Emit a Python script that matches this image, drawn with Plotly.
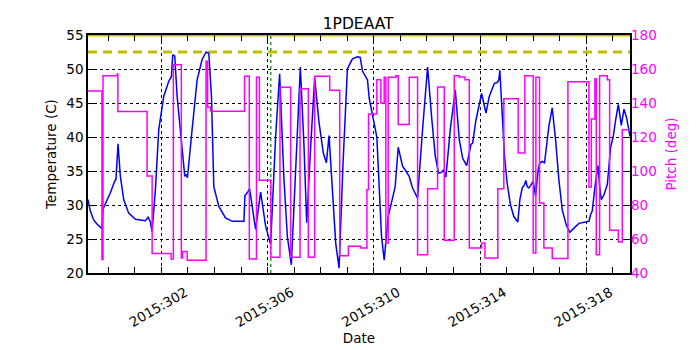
import plotly.graph_objects as go

# Temperature (C) vs day of year 2015
temp_days = [299.235, 299.323, 299.448, 299.574, 299.737, 299.76, 299.80, 300.077, 300.24, 300.29,
             300.366, 300.454, 300.58, 300.768, 301.02, 301.397, 301.497, 301.585, 301.648, 301.774,
             301.9, 302.088, 302.277, 302.377, 302.427, 302.503, 302.591, 302.716, 302.88, 302.93,
             302.98, 303.156, 303.345, 303.533, 303.684, 303.785, 303.885, 303.973, 304.162, 304.413,
             304.668, 305.108, 305.145, 305.233, 305.321, 305.547, 305.736, 305.925, 306.113, 306.302,
             306.452, 306.616, 306.742, 306.892, 307.081, 307.232, 307.37, 307.471, 307.621, 307.772,
             307.936, 308.099, 308.212, 308.313, 308.438, 308.564, 308.69, 308.841, 309.004, 309.193,
             309.384, 309.485, 309.573, 309.698, 309.761, 309.824, 309.95, 310.113, 310.201, 310.289,
             310.39, 310.54, 310.704, 310.804, 310.918, 311.081, 311.207, 311.332, 311.458, 311.647,
             311.835, 312.024, 312.174, 312.313, 312.438, 312.552, 312.627, 312.715, 312.878, 313.067,
             313.218, 313.343, 313.494, 313.658, 313.72, 313.846, 314.06, 314.223, 314.349, 314.538,
             314.644, 314.707, 314.745, 314.833, 314.92, 315.021, 315.147, 315.272, 315.423, 315.499,
             315.587, 315.675, 315.725, 315.775, 315.838, 315.926, 316.001, 316.089, 316.127, 316.19,
             316.253, 316.341, 316.429, 316.467, 316.592, 316.718, 316.844, 316.969, 317.095, 317.258,
             317.384, 317.535, 317.723, 317.975, 318.101, 318.163, 318.226, 318.327, 318.44, 318.515,
             318.566, 318.666, 318.792, 318.918, 319.018, 319.106, 319.207, 319.32, 319.42, 319.521,
             319.647]
temp_vals = [30.8, 29.1, 27.8, 27.2, 26.6, 26.5, 29.4, 31.8, 33.5, 33.8,
             39.0, 34.2, 30.8, 28.8, 27.9, 27.7, 28.2, 27.5, 26.1, 32.3,
             41.1, 46.0, 48.2, 48.9, 52.1, 51.9, 46.0, 41.1, 34.2, 34.5,
             34.0, 41.1, 48.4, 51.4, 52.5, 52.3, 46.0, 32.7, 29.8, 28.1,
             27.6, 27.6, 31.4, 31.8, 32.4, 26.4, 31.9, 26.9, 24.2, 40.1,
             49.3, 33.7, 25.4, 21.2, 36.2, 50.3, 38.6, 27.4, 38.6, 48.7,
             42.1, 37.6, 36.2, 40.2, 32.3, 24.4, 20.7, 36.2, 50.0, 51.5,
             51.8, 51.7, 49.7, 48.7, 48.4, 45.7, 43.0, 40.0, 32.7, 25.4,
             21.9, 28.3, 31.0, 32.7, 38.5, 35.7, 35.0, 34.2, 32.5, 31.0,
             41.1, 50.3, 43.0, 37.2, 34.7, 34.8, 35.2, 34.1, 41.1, 46.9,
             39.6, 36.9, 35.8, 38.9, 39.1, 42.5, 46.4, 43.5, 46.0, 47.9,
             48.0, 48.4, 49.8, 44.0, 37.2, 33.2, 30.0, 28.3, 27.5, 30.8,
             32.5, 33.0, 33.6, 32.7, 32.5, 33.0, 33.5, 31.3, 32.7, 35.2,
             36.2, 36.4, 36.2, 37.6, 41.6, 44.3, 39.6, 33.7, 29.3, 26.9,
             26.0, 26.6, 27.3, 27.5, 27.6, 28.6, 29.1, 32.7, 35.8, 32.3,
             30.8, 31.5, 33.0, 38.5, 40.1, 42.5, 44.8, 41.7, 44.1, 42.8,
             40.1]

# Pitch (deg), held until the next change
pitch_days = [299.235, 299.76, 299.80, 300.34, 300.36, 301.46, 301.65, 302.365, 302.45, 302.75,
              302.80, 302.97, 303.68, 303.74, 303.85, 305.13, 305.31, 305.58, 305.69, 306.12,
              306.465, 306.867, 307.219, 307.533, 307.772, 308.338, 308.715, 309.042, 309.51, 309.74,
              309.80, 310.113, 310.264, 310.39, 310.452, 310.54, 310.83, 310.918, 311.332, 311.647,
              312.024, 312.4, 312.652, 313.029, 313.218, 313.431, 313.595, 314.06, 314.186, 314.669,
              314.895, 315.436, 315.687, 316.001, 316.102, 316.24, 316.404, 316.718, 317.309, 318.101,
              318.189, 318.327, 318.377, 318.503, 318.792, 318.88, 319.207, 319.357, 319.672]
pitch_vals = [147, 48, 156, 157, 135, 97, 51.4, 48.2, 162.5, 48.8,
              52.7, 47.5, 164.5, 137.6, 135.1, 155.7, 48.2, 155.1, 94.5, 49.2,
              149.2, 49.2, 148.4, 49.2, 155.7, 147.5, 50.2, 55.7, 54.7, 89,
              133.5, 153.7, 140, 155.1, 57.6, 155.1, 156.1, 127.3, 155.1, 50.8,
              89.6, 149.4, 59.2, 156.1, 155.3, 153.7, 54.7, 57.6, 48.8, 89.6,
              142.5, 110.6, 156.1, 51.8, 155.1, 81.2, 54.7, 48.6, 152.5, 90.6,
              130.6, 154.3, 50.8, 156.1, 153.7, 65.1, 58.2, 124.3, 124.3]

planning_limit = 52.5
upper_limit = 55.0
marker_day = 306.12

tick_days = [302, 306, 310, 314, 318]
tick_labels = ['2015:%d' % d for d in tick_days]

FONT = 'DejaVu Sans'
MAGENTA = '#ff00ff'
x_span = [temp_days[0], temp_days[-1]]

fig = go.Figure()

# 限值線
fig.add_trace(go.Scatter(x=x_span, y=[upper_limit] * 2, mode='lines',
                         line=dict(color='#bfbf00', width=3), hoverinfo='skip'))
fig.add_trace(go.Scatter(x=x_span, y=[planning_limit] * 2, mode='lines',
                         line=dict(color='#bfbf00', width=3, dash='9px,6px'), hoverinfo='skip'))
fig.add_trace(go.Scatter(x=[marker_day] * 2, y=[20, 55], mode='lines',
                         line=dict(color='#008000', width=1.2, dash='dot'), hoverinfo='skip'))

# 溫度
fig.add_trace(go.Scatter(x=temp_days, y=temp_vals, mode='lines', name='Temperature',
                         line=dict(color='#0000ff', width=1.5)))

# 俯仰角
fig.add_trace(go.Scatter(x=pitch_days, y=pitch_vals, mode='lines', name='Pitch',
                         line=dict(color=MAGENTA, width=1.5, shape='hv'), yaxis='y2'))

# 頁面 body 有 8px 邊距, 圖縮小 8px
fig.update_layout(
    width=692, height=342,
    margin=dict(l=80, r=70, t=27, b=77),
    paper_bgcolor='white', plot_bgcolor='white',
    showlegend=False,
    font=dict(family=FONT, size=13.5, color='black'),
    title=dict(text='1PDEAAT', x=0.506, xanchor='center', y=0.953, yanchor='middle',
               font=dict(family=FONT, size=15.5, color='black')),
    xaxis=dict(range=x_span, tickvals=tick_days, ticktext=tick_labels, tickangle=-30,
               ticklabelshift=24, ticklabelstandoff=5, automargin=False,
               ticks='inside', ticklen=6, tickcolor='black', mirror='allticks',
               showline=True, linecolor='black', linewidth=1.5,
               showgrid=True, gridcolor='black', griddash='dot', gridwidth=1,
               minor=dict(dtick=1, tick0=0, ticks='inside', ticklen=3, tickcolor='black', showgrid=False),
               zeroline=False,
               title=dict(text='Date', standoff=2, font=dict(size=13.5))),
    yaxis=dict(range=[20, 55], dtick=5, ticks='inside', ticklen=6, tickcolor='black',
               automargin=False,
               showline=True, linecolor='black', linewidth=1.5, mirror=True,
               showgrid=True, gridcolor='black', griddash='dot', gridwidth=1,
               zeroline=False,
               title=dict(text='Temperature (C)', standoff=7, font=dict(size=13.5))),
    yaxis2=dict(range=[40, 180], dtick=20, overlaying='y', side='right',
                automargin=False,
                ticks='inside', ticklen=6, tickcolor='black',
                tickfont=dict(color=MAGENTA, size=13.5), showgrid=False, zeroline=False,
                showline=False,
                title=dict(text='Pitch (deg)', standoff=10, font=dict(color=MAGENTA, size=13.5))),
)

fig.write_html("out.html")
